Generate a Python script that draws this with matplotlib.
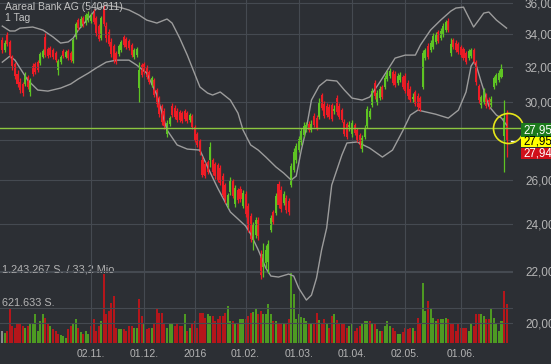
import matplotlib
matplotlib.use("Agg")
import matplotlib.pyplot as plt
from matplotlib.patches import Rectangle
from matplotlib.ticker import NullLocator
import numpy as np

plt.rcParams['font.family'] = ['Liberation Sans', 'DejaVu Sans']

# daily candles (Sep 2015 - Jun 2016)
opens = [33.62, 33.00, 33.93, 33.50, 32.58, 32.17, 31.58, 31.12, 31.01, 31.01,
         31.41, 30.56, 32.05, 32.17, 32.28, 32.23, 32.58, 33.81, 33.06, 33.12,
         33.00, 32.82, 31.81, 32.28, 32.94, 32.58, 32.94, 32.82, 32.34, 33.81,
         34.87, 34.49, 35.00, 34.68, 34.87, 34.81, 35.45, 35.00, 34.49, 33.74,
         35.65, 34.49, 34.12, 33.50, 33.25, 32.82, 32.76, 33.00, 33.81, 33.68,
         33.56, 33.31, 32.58, 32.70, 30.78, 32.11, 32.17, 31.99, 31.69, 30.95,
         31.24, 30.67, 30.22, 29.78, 29.51, 28.29, 28.81, 29.78, 29.67, 29.51,
         29.45, 29.40, 29.51, 29.40, 29.03, 29.24, 28.66, 28.29, 27.93, 26.97,
         26.78, 26.87, 26.97, 26.97, 26.78, 26.73, 26.58, 26.19, 25.76, 24.83,
         25.44, 25.95, 24.88, 25.53, 25.58, 24.79, 25.35, 24.79, 24.34, 23.29,
         23.51, 24.16, 22.58, 22.17, 22.33, 22.37, 23.72, 24.52, 24.47, 25.81,
         25.53, 24.92, 25.16, 25.01, 25.76, 26.48, 26.97, 27.47, 27.88, 28.24,
         28.60, 28.81, 28.50, 29.24, 29.13, 29.19, 30.39, 29.89, 29.78, 29.73,
         29.84, 29.51, 30.22, 29.78, 29.56, 28.92, 28.81, 28.66, 28.29, 28.76,
         28.50, 28.24, 27.52, 28.14, 28.71, 29.19, 29.84, 31.07, 29.95, 30.22,
         30.84, 30.84, 31.30, 31.46, 31.69, 31.58, 31.07, 31.24, 31.41, 31.46,
         31.07, 30.73, 30.17, 30.56, 30.33, 30.22, 30.84, 32.52, 33.25, 33.00,
         33.19, 33.50, 34.12, 33.74, 33.93, 34.24, 34.81, 32.82, 33.62, 33.43,
         33.37, 33.19, 33.06, 32.82, 32.52, 32.64, 33.00, 32.28, 30.89, 29.84,
         30.00, 30.39, 30.11, 29.84, 30.84, 31.07, 31.24, 31.41, 28.19, 29.40]

highs = [33.81, 33.62, 34.12, 33.62, 32.70, 32.28, 31.81, 31.35, 31.12, 31.69,
         31.52, 31.35, 32.23, 32.28, 32.40, 32.88, 33.06, 34.05, 33.19, 33.25,
         33.12, 32.94, 32.46, 32.70, 33.06, 33.00, 33.06, 32.94, 33.74, 34.74,
         35.00, 35.13, 35.13, 35.32, 35.45, 35.32, 35.58, 35.13, 34.61, 35.13,
         35.84, 34.74, 34.30, 33.74, 33.37, 32.94, 33.37, 33.62, 33.93, 33.81,
         33.68, 33.43, 33.12, 33.19, 32.28, 32.23, 32.28, 32.11, 31.81, 31.46,
         31.35, 30.78, 30.33, 29.89, 29.67, 29.03, 29.24, 29.95, 29.84, 29.67,
         29.56, 29.51, 29.62, 29.51, 29.40, 29.34, 28.76, 28.40, 28.03, 27.17,
         26.87, 26.97, 27.88, 27.07, 26.87, 26.83, 26.73, 26.34, 25.86, 25.39,
         26.14, 26.05, 25.76, 25.62, 25.71, 25.53, 25.48, 24.92, 24.47, 24.07,
         24.29, 24.29, 22.87, 23.16, 23.08, 23.29, 24.38, 24.61, 25.39, 25.95,
         25.71, 25.48, 25.30, 25.16, 26.83, 27.57, 27.83, 28.19, 28.60, 28.92,
         28.92, 28.98, 29.03, 29.40, 29.29, 30.22, 30.50, 30.06, 29.95, 29.89,
         29.95, 29.84, 30.39, 29.95, 29.67, 29.08, 28.92, 28.98, 29.03, 28.87,
         28.60, 28.34, 28.24, 28.76, 29.78, 29.67, 30.78, 31.24, 30.67, 30.89,
         30.95, 31.52, 31.81, 31.93, 31.81, 31.75, 31.64, 31.69, 31.52, 31.64,
         31.24, 30.89, 30.50, 30.67, 30.50, 30.33, 33.00, 33.12, 33.43, 33.62,
         34.05, 34.12, 34.24, 34.36, 34.68, 34.87, 35.00, 33.74, 33.74, 33.62,
         33.50, 33.31, 33.19, 32.94, 33.06, 33.12, 33.12, 32.40, 31.01, 30.39,
         30.78, 30.50, 30.28, 30.33, 31.46, 31.64, 31.81, 32.17, 30.11, 29.56]

lows = [32.82, 32.88, 33.25, 32.52, 31.81, 31.30, 30.84, 30.50, 30.33, 30.89,
        30.73, 30.33, 31.46, 31.58, 31.69, 32.11, 32.52, 32.58, 32.52, 32.58,
        32.46, 32.28, 31.52, 32.17, 32.52, 32.52, 32.40, 32.28, 32.23, 33.68,
        34.24, 34.43, 34.43, 34.55, 34.74, 34.68, 34.61, 33.87, 33.56, 33.62,
        34.49, 33.50, 33.25, 32.58, 32.23, 32.17, 32.64, 32.88, 33.19, 33.06,
        33.00, 32.58, 32.46, 32.58, 30.00, 31.41, 31.58, 31.30, 31.01, 30.84,
        30.28, 29.73, 29.19, 28.76, 28.55, 28.14, 28.71, 29.19, 29.08, 28.92,
        28.92, 28.87, 28.98, 28.87, 28.92, 28.55, 27.88, 27.62, 27.22, 26.14,
        26.10, 26.29, 26.63, 26.24, 26.05, 25.90, 25.76, 25.20, 24.92, 24.70,
        25.30, 25.16, 24.74, 24.92, 24.97, 24.70, 24.29, 23.64, 23.21, 22.87,
        23.38, 23.29, 21.68, 21.76, 22.12, 21.92, 23.64, 23.98, 24.38, 24.70,
        24.52, 24.83, 24.47, 24.38, 25.67, 26.38, 26.83, 27.37, 27.73, 28.14,
        28.40, 28.40, 28.40, 28.66, 28.50, 29.08, 29.56, 29.13, 29.19, 29.08,
        28.98, 29.34, 29.29, 29.08, 28.92, 28.19, 28.03, 28.45, 28.14, 28.24,
        27.88, 27.57, 27.37, 28.03, 28.60, 29.08, 29.73, 30.17, 29.84, 30.11,
        30.17, 30.73, 31.18, 31.35, 30.95, 30.84, 30.95, 31.12, 30.73, 30.50,
        30.17, 30.00, 30.00, 29.78, 29.56, 29.51, 30.73, 32.40, 32.46, 32.88,
        33.06, 33.37, 33.43, 33.62, 33.81, 34.12, 34.12, 32.64, 33.06, 32.88,
        32.76, 32.58, 32.40, 32.17, 32.40, 32.52, 32.17, 30.95, 29.95, 29.67,
        29.89, 29.67, 29.62, 29.73, 30.73, 30.95, 31.12, 31.35, 26.38, 27.12]

closes = [33.00, 33.43, 33.37, 32.70, 32.05, 31.46, 31.01, 30.67, 30.50, 31.58,
          30.84, 31.24, 31.58, 31.69, 31.81, 32.76, 32.94, 32.70, 32.64, 32.70,
          32.58, 32.40, 32.34, 32.58, 32.64, 32.88, 32.52, 32.40, 33.62, 34.61,
          34.36, 34.94, 34.55, 35.19, 35.26, 35.13, 34.74, 34.05, 33.68, 35.00,
          34.61, 33.74, 33.37, 32.76, 32.40, 32.28, 33.25, 33.50, 33.31, 33.19,
          33.12, 32.70, 33.00, 33.06, 31.81, 31.52, 31.69, 31.41, 31.12, 31.35,
          30.39, 29.89, 29.34, 28.92, 28.71, 28.87, 29.13, 29.29, 29.19, 29.03,
          29.03, 28.98, 29.08, 28.98, 29.29, 28.66, 27.98, 27.73, 27.37, 26.24,
          26.19, 26.38, 27.62, 26.38, 26.19, 26.00, 25.86, 25.30, 25.06, 25.30,
          26.00, 25.25, 25.62, 25.06, 25.11, 25.39, 24.43, 23.76, 23.33, 23.98,
          24.16, 23.47, 21.84, 22.70, 22.87, 23.12, 24.25, 24.07, 25.25, 24.83,
          24.65, 25.35, 24.61, 24.52, 26.68, 27.37, 27.68, 28.03, 28.45, 28.71,
          28.76, 28.50, 28.81, 28.76, 28.60, 30.00, 29.67, 29.24, 29.29, 29.19,
          29.08, 29.62, 29.45, 29.19, 29.03, 28.29, 28.14, 28.76, 28.87, 28.34,
          27.98, 27.73, 28.08, 28.60, 29.62, 29.51, 30.61, 30.33, 30.50, 30.73,
          30.28, 31.35, 31.64, 31.75, 31.07, 30.95, 31.46, 31.52, 30.84, 30.61,
          30.33, 30.11, 30.28, 29.89, 29.73, 29.67, 32.82, 33.00, 32.58, 33.43,
          33.87, 33.93, 33.56, 34.18, 34.49, 34.74, 34.24, 33.37, 33.19, 33.00,
          32.88, 32.70, 32.52, 32.28, 32.94, 33.00, 32.28, 31.12, 30.11, 30.28,
          30.61, 29.78, 29.78, 30.17, 31.35, 31.52, 31.64, 31.87, 29.13, 27.95]

# volume in thousand shares
volumes = [210, 175, 210, 595, 300, 262, 332, 350, 300, 262,
           298, 350, 332, 507, 210, 380, 507, 437, 350, 300,
           245, 210, 157, 140, 122, 87, 245, 300, 350, 420,
           262, 200, 157, 210, 157, 300, 420, 210, 298, 385,
           1210, 507, 560, 700, 822, 262, 245, 245, 245, 210,
           298, 298, 262, 262, 770, 472, 332, 245, 262, 262,
           350, 612, 525, 525, 350, 262, 350, 350, 298, 332,
           298, 298, 507, 210, 262, 350, 385, 262, 525, 525,
           437, 507, 472, 472, 385, 420, 472, 472, 525, 647,
           385, 385, 332, 350, 420, 420, 420, 472, 525, 550,
           595, 507, 560, 507, 507, 682, 507, 385, 385, 332,
           332, 332, 350, 420, 1243.267, 858, 420, 507, 460, 437,
           385, 332, 332, 350, 525, 400, 332, 420, 332, 262,
           472, 507, 400, 332, 332, 332, 262, 300, 332, 210,
           262, 300, 332, 385, 385, 385, 350, 332, 250, 210,
           210, 298, 385, 300, 262, 210, 157, 157, 200, 262,
           245, 262, 262, 210, 437, 350, 1050, 560, 735, 600,
           437, 385, 420, 420, 420, 437, 420, 350, 350, 210,
           332, 262, 262, 262, 210, 350, 298, 507, 507, 507,
           472, 420, 420, 595, 437, 350, 210, 385, 910, 682]

# Bollinger bands, read at selected candles
bb_up_idx = [0, 3, 5, 7, 12, 16, 20, 23, 26, 28, 30, 34, 37, 41, 46, 50, 54, 57, 61, 65,
             67, 70, 73, 78, 81, 83, 86, 90, 93, 95, 98, 101, 104, 108, 111, 114, 116, 118, 120, 122,
             125, 128, 132, 135, 138, 142, 145, 149, 152, 155, 159, 163, 165, 169, 173, 177, 179, 182, 185, 186,
             188, 190, 192, 195, 199]
bb_up = [34.49, 34.18, 34.18, 34.36, 34.43, 34.24, 33.81, 33.43, 33.50, 33.74,
         34.24, 35.00, 35.58, 35.84, 35.71, 35.52, 35.19, 34.87, 34.68, 34.94,
         34.68, 33.74, 32.70, 30.84, 30.50, 30.39, 30.56, 30.11, 29.40, 28.50,
         27.73, 27.47, 27.12, 26.63, 26.34, 26.00, 26.19, 27.47, 28.60, 30.11,
         30.89, 31.24, 31.18, 30.67, 30.22, 30.11, 30.28, 31.12, 31.81, 32.52,
         32.70, 32.70, 33.31, 34.24, 34.87, 35.45, 35.65, 35.71, 34.74, 34.43,
         34.87, 35.32, 35.39, 34.87, 34.36]
bb_lo_idx = [0, 3, 5, 10, 14, 18, 23, 27, 30, 34, 37, 41, 45, 50, 53, 57, 61, 65, 69, 73,
             78, 81, 85, 90, 96, 98, 101, 104, 106, 109, 113, 115, 117, 120, 122, 124, 126, 128, 130, 134,
             136, 140, 145, 150, 154, 158, 161, 164, 171, 176, 180, 183, 185, 186, 187, 189, 192, 195, 197, 199]
bb_lo = [32.28, 32.64, 32.40, 31.24, 30.67, 30.61, 30.78, 31.01, 31.30, 31.64,
         31.93, 32.28, 32.40, 32.40, 32.11, 31.64, 30.39, 28.50, 27.73, 27.52,
         27.47, 26.63, 25.62, 24.52, 23.90, 23.55, 22.87, 22.12, 21.80, 21.76,
         21.88, 21.80, 21.32, 20.86, 21.05, 21.72, 22.87, 23.81, 25.76, 27.22,
         27.83, 27.88, 27.57, 27.12, 27.47, 28.45, 29.29, 29.56, 29.34, 29.13,
         29.56, 30.56, 32.05, 32.28, 32.11, 31.12, 29.78, 29.29, 29.13, 28.76]

tick_pos = [35, 56, 76, 96, 117, 138, 159, 181]
tick_labels = ['02.11.', '01.12.', '2016', '01.02.', '01.03.', '01.04.', '02.05.', '01.06.']
price_ticks = [20, 22, 24, 26, 28, 30, 32, 34, 36]

ref_level = 28.58
last_quotes = ['27,956', '27,950', '27,942']
vol_max = 1243267

# colours
bg = '#2c2f34'
grid_c = '#454a51'
txt_c = '#b4b4b4'
up_c = '#5ec423'
dn_c = '#ee1c25'
vup_c = '#4e9a22'
vdn_c = '#b5161b'

W, H = 551, 364
fig = plt.figure(figsize=(W / 100, H / 100), dpi=100)
fig.patch.set_facecolor(bg)

ax = fig.add_axes([0, 21 / H, 513 / W, 343 / H])
axv = ax.twinx()
ax.set_zorder(2)
axv.set_zorder(1)
ax.patch.set_visible(False)
axv.patch.set_visible(False)

o = np.array(opens)
h = np.array(highs)
l = np.array(lows)
c = np.array(closes)
v = np.array(volumes) * 1000
idx = np.arange(len(c))

# volume, coloured by change to previous close
vcol = ['#8c8c8c'] + [vup_c if c[i] > c[i - 1] else vdn_c for i in range(1, len(c))]
axv.bar(idx, v, width=0.8, color=vcol, linewidth=0)
axv.axhline(vol_max, color=grid_c, lw=0.8)
axv.axhline(vol_max / 2, color=grid_c, lw=0.8)
axv.set_ylim(0, vol_max * 343 / 71)
axv.set_yticks([])
axv.text(0.003, vol_max, '1.243.267 S. / 33,2 Mio', transform=axv.get_yaxis_transform(),
         color=txt_c, fontsize=7.8, va='baseline')
axv.text(0.003, vol_max / 2 + 30000, '621.633 S.', transform=axv.get_yaxis_transform(),
         color=txt_c, fontsize=7.8, va='baseline')

# bands
ax.plot(bb_up_idx, bb_up, color='#9c9c9c', lw=1.0)
ax.plot(bb_lo_idx, bb_lo, color='#9c9c9c', lw=1.0)

# candles
col = np.where(c >= o, up_c, dn_c)
ax.vlines(idx, l, h, colors=col, lw=0.9)
ax.bar(idx, np.maximum(np.abs(c - o), 0.03), bottom=np.minimum(o, c), width=0.8,
       color=col, linewidth=0)

ax.set_yscale('log')
ax.set_ylim(19.28, 36.18)
ax.set_xlim(-0.91, 201.54)

ax.axhline(ref_level, color='#8cc63f', lw=1.0, xmax=1.016, clip_on=False, zorder=4)
ax.plot(len(c) - 0.45, ref_level, 'o', ms=21.6, mfc='none', mec='#e6e619', mew=1.2,
        clip_on=False, zorder=5)
ax.plot([len(c) + 0.8, len(c) + 2.3], [float(c[-1])] * 2, color='white', lw=1, clip_on=False)

# the 28,00 label sits under the quote boxes, so leave it blank
ax.yaxis.tick_right()
ax.set_yticks(price_ticks)
ax.set_yticklabels(['' if p == 28 else '%d,00' % p for p in price_ticks])
ax.yaxis.set_minor_locator(NullLocator())
ax.set_xticks(tick_pos)
ax.set_xticklabels(tick_labels)
ax.tick_params(axis='y', length=0, pad=8.6, labelsize=8.5, colors=txt_c)
ax.tick_params(axis='x', length=0, pad=4, labelsize=7.5, colors=txt_c)
ax.grid(True, color=grid_c, lw=0.8)
for a in (ax, axv):
    for s in a.spines.values():
        s.set_visible(False)

# title
fig.text(5 / W, 1 - 10.5 / H, 'Aareal Bank AG (540811)', color='#c2c2c2', fontsize=7.5, va='baseline')
fig.text(5 / W, 1 - 21 / H, '1 Tag', color='#c2c2c2', fontsize=7.5, va='baseline')

# last quote boxes
boxes = [(123, 14, '#1c7a1c', 'white'), (137, 10, '#ffff00', 'black'), (148, 11, '#d0101a', 'white')]
for (top, hh, fc, tc), q in zip(boxes, last_quotes):
    fig.add_artist(Rectangle((521 / W, 1 - (top + hh) / H), 32 / W, hh / H,
                             transform=fig.transFigure, facecolor=fc, edgecolor='none', zorder=10))
    fig.text(523 / W, 1 - (top + hh / 2) / H, q, color=tc, fontsize=8.3, va='center', zorder=11)

fig.savefig('out.png', dpi=100, facecolor=bg)
